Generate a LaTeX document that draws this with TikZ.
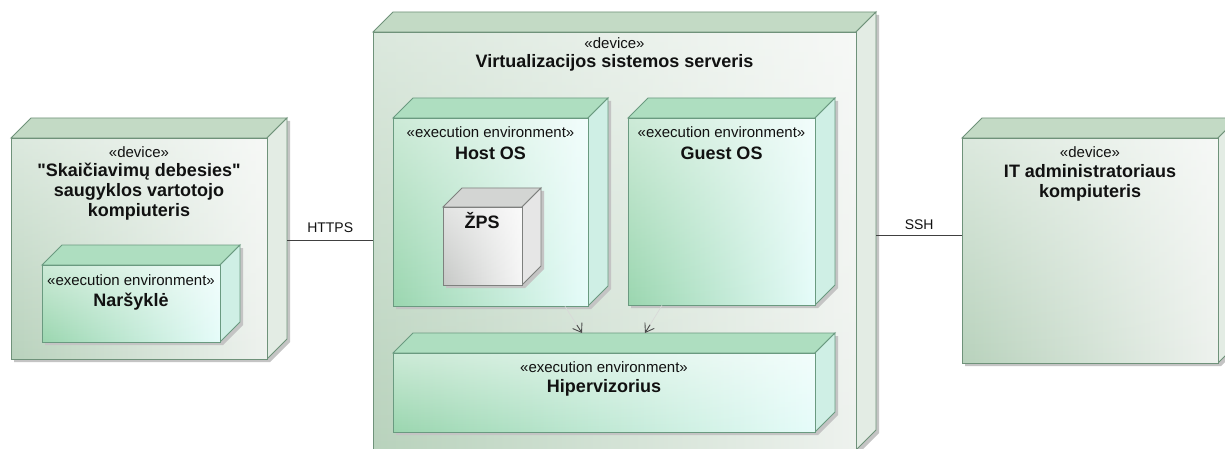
\documentclass[tikz,border=0pt]{standalone}
\usepackage{fontspec}
\setmainfont{Liberation Sans}[Ligatures=TeXOff]
\usetikzlibrary{arrows.meta,calc,fadings}

% palette
\definecolor{devEdge}{HTML}{6F927A}
\definecolor{devA}{HTML}{B8D2BC}
\definecolor{devB}{HTML}{EEF2EE}
\definecolor{devTop}{HTML}{C3DAC5}
\definecolor{devSide}{HTML}{E3ECE4}
\definecolor{envEdge}{HTML}{6A9A80}
\definecolor{envA}{HTML}{9AD6AF}
\definecolor{envB}{HTML}{E6FCFA}
\definecolor{envTop}{HTML}{AEDEC0}
\definecolor{envSide}{HTML}{CFEFE5}
\definecolor{artEdge}{HTML}{7E807E}
\definecolor{artA}{HTML}{C6C8C6}
\definecolor{artB}{HTML}{F6F6F6}
\definecolor{artTop}{HTML}{D3D5D3}
\definecolor{artSide}{HTML}{E6E6E6}
\definecolor{shadowc}{HTML}{C4C4C4}
\definecolor{inkc}{HTML}{111111}
\definecolor{tipc}{HTML}{4A4A4A}

\tikzset{
  cubeline/.style={line width=0.9pt},
  devFront/.style={inner sep=0pt, left color=devA, right color=devB},
  envFront/.style={inner sep=0pt, left color=envA, right color=envB},
  artFront/.style={inner sep=0pt, left color=artA, right color=artB},
  stereo/.style={inner sep=0pt, text=inkc, font=\fontsize{15}{17}\selectfont},
  title/.style={inner sep=0pt, text=inkc, align=center, font=\fontsize{18}{20}\selectfont\bfseries},
  link/.style={line width=0.9pt, draw=black!75},
  linklabel/.style={inner sep=0pt, text=inkc, font=\fontsize{14}{16}\selectfont},
  depfaint/.style={line width=0.7pt, draw=black!15},
  deptip/.style={line width=0.9pt, draw=tipc, -{Straight Barb[length=8pt,width=11pt]}},
}

% UML node drawn as a box with depth: name, x, y (top of front face), width, height, depth, kind
% (the y axis points down, so the white wash fades towards 'south' to stay clear at the top)
\newcommand\nodecube[7]{%
  \fill[shadowc] (#2+3,#3+3) -- ++(#6,-#6) -- ++(#4,0) -- ++(0,#5) -- ++(-#6,#6) -- ++(-#4,0) -- cycle;
  \filldraw[cubeline, fill=#7Top, draw=#7Edge] (#2,#3) -- ++(#6,-#6) -- ++(#4,0) -- ++(-#6,#6) -- cycle;
  \filldraw[cubeline, fill=#7Side, draw=#7Edge] (#2+#4,#3) -- ++(#6,-#6) -- ++(0,#5) -- ++(-#6,#6) -- cycle;
  \node[#7Front, minimum width=#4pt, minimum height=#5pt, anchor=north west] (#1) at (#2,#3) {};
  \fill[white, fill opacity=0.5, path fading=south] (#1.north west) rectangle (#1.south east);
  \draw[cubeline, draw=#7Edge] (#1.north west) rectangle (#1.south east);
}

\begin{document}
\begin{tikzpicture}[x=1pt, y=-1pt]
  \fill[white] (0,0) rectangle (1225,449);
  \useasboundingbox (0,0) rectangle (1225,449);

  % client computer
  \nodecube{client}{11}{138}{256}{221}{20}{dev}
  \node[stereo] (clientS) at (139,152) {«device»};
  \node[title] (clientT) at (139,192) {"Skaičiavimų debesies"\\saugyklos vartotojo\\kompiuteris};
  \nodecube{browser}{42}{265}{178}{77}{20}{env}
  \node[stereo] (browserS) at (131,280) {«execution environment»};
  \node[title] (browserT) at (131,302) {Naršyklė};

  % virtualization server
  \nodecube{server}{373}{32}{483}{418}{20}{dev}
  \node[stereo] (serverS) at (614.5,43) {«device»};
  \node[title] (serverT) at (614.5,63) {Virtualizacijos sistemos serveris};

  \nodecube{host}{393}{118}{195}{188}{20}{env}
  \node[stereo] (hostS) at (490.5,132) {«execution environment»};
  \node[title] (hostT) at (490.5,153) {Host OS};
  \nodecube{zps}{443}{207}{79}{78}{19}{art}
  \node[title] (zpsT) at (482,221) {ŽPS};

  \nodecube{guest}{628}{118}{187}{187}{20}{env}
  \node[stereo] (guestS) at (721.5,132) {«execution environment»};
  \node[title] (guestT) at (721.5,153) {Guest OS};

  \nodecube{hyp}{393}{353}{422}{79}{20}{env}
  \node[stereo] (hypS) at (604,367) {«execution environment»};
  \node[title] (hypT) at (604,388) {Hipervizorius};

  % administrator computer
  \nodecube{admin}{962}{138}{256}{225}{20}{dev}
  \node[stereo] (adminS) at (1090,152) {«device»};
  \node[title] (adminT) at (1090,182.5) {IT administratoriaus\\kompiuteris};

  % communication paths
  \coordinate (httpsA) at ([xshift=20pt,yshift=8.5pt]client.east);
  \draw[link] (httpsA) -- (httpsA -| server.west)
    node[linklabel, midway, above=7pt] {HTTPS};
  \coordinate (sshA) at ([xshift=20pt,yshift=6pt]server.east);
  \draw[link] (sshA) -- (sshA -| admin.west)
    node[linklabel, midway, above=5pt] {SSH};

  % dependencies on the hypervisor
  \path (host.south west) ++(172,0) coordinate (d1s);
  \path (hyp.north west) ++(189,-20) coordinate (d1t);
  \path (guest.south west) ++(34,0) coordinate (d2s);
  \path (hyp.north west) ++(252,-20) coordinate (d2t);
  \draw[depfaint] (d1s) -- (d1t);
  \draw[depfaint] (d2s) -- (d2t);
  \draw[deptip] ($(d1s)!0.7!(d1t)$) -- (d1t);
  \draw[deptip] ($(d2s)!0.7!(d2t)$) -- (d2t);
\end{tikzpicture}
\end{document}
